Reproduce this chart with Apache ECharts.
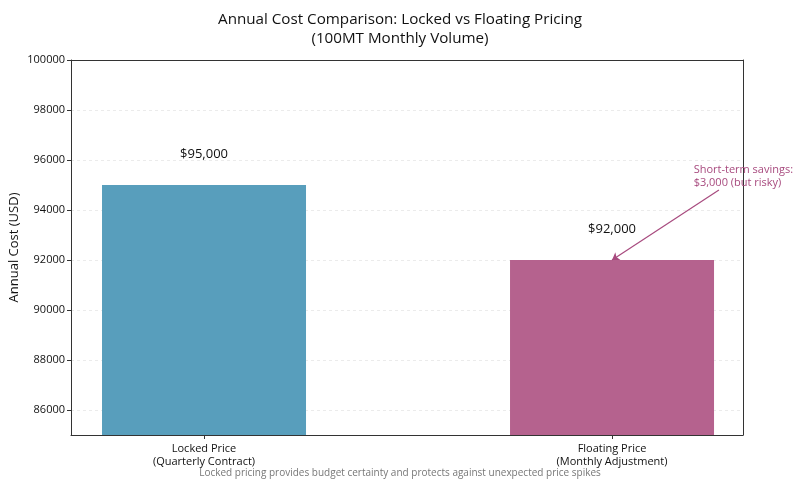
<!DOCTYPE html>
<html>
<head>
<meta charset="utf-8">
<script src="https://cdn.jsdelivr.net/npm/echarts@6/dist/echarts.min.js"></script>
<style>
    html, body { margin: 0; padding: 0; background: #fff; }
    #main { width: 800px; height: 487px; }
</style>
</head>
<body>
<div id="main"></div>
<script>
    "use strict";

    var categories = ['Locked Price\n(Quarterly Contract)', 'Floating Price\n(Monthly Adjustment)'];
    var costs = [95000, 92000];
    var barColors = ['#589ebc', '#b5628e'];
    var yTicks = [86000, 88000, 90000, 92000, 94000, 96000, 98000, 100000];
    var catPositions = [0, 1];

    // annotation: text anchor and arrow, in data units
    var noteText = 'Short-term savings:\n$3,000 (but risky)';
    var noteAt = [1.2, 95330];
    var arrowFrom = [1.262, 94800];
    var arrowTo = [1.0, 92000];

    var FONT = 'Open Sans';
    var X_MIN = -0.326, X_MAX = 1.321;
    var Y_MIN = 85000, Y_MAX = 100000;

    var barData = costs.map(function(v, i) {
        return {
            value: [catPositions[i], v],
            itemStyle: { color: barColors[i] }
        };
    });

    // plain spine used for the top and right sides of the frame
    function spine(position) {
        return {
            type: 'value',
            position: position,
            min: position === 'top' ? X_MIN : Y_MIN,
            max: position === 'top' ? X_MAX : Y_MAX,
            axisLine: { show: true, onZero: false, lineStyle: { color: '#333' } },
            axisTick: { show: false },
            axisLabel: { show: false },
            splitLine: { show: false },
            z: 5
        };
    }

    var chart = echarts.init(document.getElementById('main'));
    var option = {
        animation: false,
        backgroundColor: '#fff',
        textStyle: { fontFamily: FONT },
        title: {
            text: 'Annual Cost Comparison: Locked vs Floating Pricing\n(100MT Monthly Volume)',
            left: 'center',
            top: 5,
            textStyle: { fontFamily: FONT, fontSize: 15.2, fontWeight: 'normal', color: '#111', lineHeight: 19 }
        },
        graphic: [{
            type: 'text',
            left: 'center',
            top: 468,
            style: {
                text: 'Locked pricing provides budget certainty and protects against unexpected price spikes',
                fontFamily: FONT,
                fontSize: 10,
                fill: '#777'
            }
        }],
        grid: {
            left: 71, right: 57, top: 60, bottom: 52,
            outerBoundsMode: 'none',
            containLabel: false
        },
        xAxis: [{
            type: 'value',
            min: X_MIN,
            max: X_MAX,
            axisLine: { show: true, onZero: false, lineStyle: { color: '#333' } },
            axisTick: { show: true, customValues: catPositions, length: 4, lineStyle: { color: '#333' } },
            axisLabel: {
                customValues: catPositions,
                color: '#111',
                fontSize: 11,
                lineHeight: 13,
                margin: 7,
                formatter: function(v) {
                    var i = catPositions.indexOf(Math.round(v));
                    return i >= 0 ? categories[i] : '';
                }
            },
            splitLine: { show: false },
            z: 5
        }, spine('top')],
        yAxis: [{
            type: 'value',
            min: Y_MIN,
            max: Y_MAX,
            name: 'Annual Cost (USD)',
            nameLocation: 'middle',
            nameGap: 50,
            nameMoveOverlap: false,
            nameTextStyle: { fontFamily: FONT, fontSize: 13, color: '#111' },
            axisLine: { show: true, onZero: false, lineStyle: { color: '#333' } },
            axisTick: { show: true, customValues: yTicks, length: 4, lineStyle: { color: '#333' } },
            axisLabel: {
                customValues: yTicks,
                color: '#111',
                fontSize: 11,
                margin: 6,
                formatter: function(v) { return String(v); }
            },
            splitLine: { show: true, lineStyle: { color: '#e6e6e6', type: [3, 3], width: 0.8 } }
        }, spine('right')],
        series: [{
            type: 'bar',
            data: barData,
            barWidth: 204,
            label: {
                show: true,
                position: 'top',
                distance: 24,
                fontSize: 13,
                color: '#111',
                formatter: function(p) {
                    return '$' + p.value[1].toLocaleString('en-US');
                }
            },
            markPoint: {
                symbol: 'circle',
                symbolSize: 0,
                silent: true,
                label: {
                    show: true,
                    position: 'right',
                    distance: 0,
                    align: 'left',
                    color: '#a84b7f',
                    fontSize: 11,
                    lineHeight: 13,
                    formatter: noteText
                },
                data: [{ coord: noteAt }]
            },
            markLine: {
                silent: true,
                symbol: ['none', 'arrow'],
                symbolSize: 7,
                label: { show: false },
                lineStyle: { color: '#a84b7f', width: 1.2, type: 'solid' },
                data: [[{ coord: arrowFrom }, { coord: arrowTo }]]
            }
        }]
    };
    chart.setOption(option);
</script>
</body>
</html>
